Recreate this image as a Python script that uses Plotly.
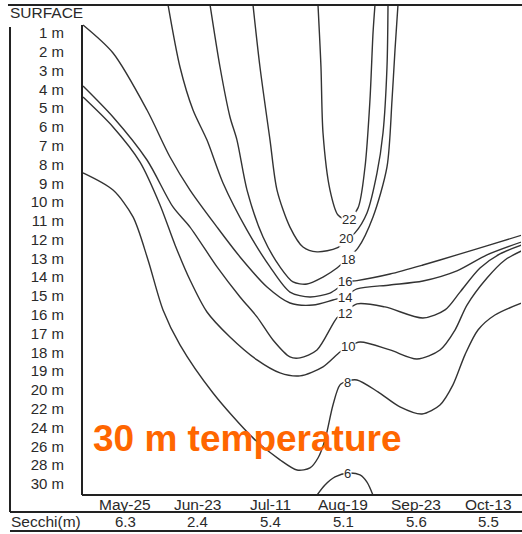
import plotly.graph_objects as go

# ---- categories / tick labels ----
dates = ["May-25", "Jun-23", "Jul-11", "Aug-19", "Sep-23", "Oct-13"]
secchi = ["6.3", "2.4", "5.4", "5.1", "5.6", "5.5"]
depth_labels = ["1 m", "2 m", "3 m", "4 m", "5 m", "6 m", "7 m", "8 m", "9 m", "10 m",
                "11 m", "12 m", "13 m", "14 m", "15 m", "16 m", "17 m", "18 m", "19 m",
                "20 m", "22 m", "24 m", "26 m", "28 m", "30 m"]

# ---- isotherms: x = sampling-date index, y = depth-row index (0 = surface) ----
iso22_x = [2.651, 2.692, 2.720, 2.816, 2.926, 3.063, 3.201, 3.297, 3.365, 3.407, 3.434]
iso22_y = [-0.5, 2.81, 6.32, 9.36, 10.69, 10.95, 10.31, 8.13, 4.57, 1.0, -0.5]

iso20_x = [1.758, 1.854, 1.992, 2.088, 2.266, 2.445, 2.637, 2.912, 3.036, 3.159, 3.324, 3.462, 3.544, 3.599, 3.613]
iso20_y = [-0.5, 2.81, 6.70, 9.36, 11.33, 12.39, 12.65, 12.44, 12.02, 11.64, 10.58, 8.45, 6.32, 2.81, -0.5]

iso18_x = [1.168, 1.305, 1.442, 1.538, 1.676, 1.896, 2.129, 2.308, 2.5, 2.720, 2.912, 3.036, 3.201, 3.407, 3.599, 3.668, 3.709, 3.750]
iso18_y = [-0.5, 2.81, 5.47, 6.70, 9.36, 11.86, 13.45, 14.25, 14.36, 13.99, 13.51, 13.08, 12.44, 10.79, 8.13, 4.57, 1.9, -0.5]

iso16_x = [0.591, 0.755, 0.934, 1.126, 1.346, 1.676, 1.992, 2.266, 2.541, 2.816, 2.926, 3.022, 3.187, 3.640, 4.093, 4.560, 5.014, 5.5]
iso16_y = [-0.5, 2.81, 5.10, 6.70, 8.98, 11.49, 13.45, 14.79, 15.05, 14.84, 14.57, 14.25, 14.18, 13.83, 13.35, 12.81, 12.28, 11.70]

iso14_x = [-0.577, -0.165, 0.302, 0.618, 0.893, 1.264, 1.580, 1.951, 2.266, 2.582, 2.857, 3.008, 3.187, 3.640, 4.093, 4.560, 4.973, 5.5]
iso14_y = [0.575, 2.065, 5.10, 7.60, 9.36, 11.33, 12.92, 14.52, 15.37, 15.48, 15.21, 15.05, 14.62, 14.41, 14.20, 13.66, 12.81, 12.05]

iso12_x = [-0.577, -0.165, 0.302, 0.659, 0.893, 1.264, 1.580, 1.813, 2.033, 2.266, 2.404, 2.637, 2.912, 3.008, 3.187, 3.571, 4.093, 4.396, 4.602, 4.877, 5.151, 5.5]
iso12_y = [3.82, 5.47, 7.76, 10.26, 11.33, 13.45, 15.05, 16.11, 17.34, 18.24, 18.29, 17.87, 16.15, 15.90, 15.42, 15.58, 16.17, 15.74, 14.79, 13.51, 12.76, 12.22]

iso10_x = [-0.577, -0.165, 0.206, 0.481, 0.687, 0.893, 1.126, 1.442, 1.813, 2.129, 2.404, 2.720, 2.953, 3.063, 3.228, 3.640, 4.011, 4.327, 4.533, 4.698, 4.973, 5.220, 5.5]
iso10_y = [4.41, 6.0, 7.87, 10.15, 12.28, 14.15, 15.85, 17.18, 18.40, 19.09, 19.25, 18.77, 17.98, 17.71, 17.45, 17.87, 18.35, 17.87, 16.81, 15.48, 14.04, 13.08, 12.50]

iso8_x = [-0.577, -0.165, 0.110, 0.316, 0.522, 0.755, 1.209, 1.758, 2.129, 2.363, 2.541, 2.651, 2.747, 2.857, 2.953, 3.063, 3.187, 3.475, 3.777, 4.080, 4.327, 4.505, 4.670, 4.849, 5.082, 5.5]
iso8_y = [8.45, 9.36, 10.79, 13.08, 15.74, 17.60, 20.16, 22.55, 23.72, 24.26, 24.15, 23.62, 22.66, 20.80, 19.73, 19.52, 19.47, 20.10, 20.90, 21.28, 20.80, 19.73, 18.13, 16.81, 16.01, 15.30]

iso6_x = [2.637, 2.747, 2.885, 3.063, 3.228, 3.324, 3.407]
iso6_y = [25.6, 25.06, 24.63, 24.42, 24.52, 24.90, 25.6]

# isotherm labels (placed on the Aug-19 column)
iso_levels = ["22", "20", "18", "16", "14", "12", "10", "8", "6"]
label_x = [3.08, 3.04, 3.06, 3.02, 3.02, 3.02, 3.06, 3.06, 3.06]
label_y = [10.90, 11.96, 13.08, 14.22, 15.08, 15.92, 17.71, 19.58, 24.42]

FONT = "Liberation Sans, Arial, sans-serif"
LINE = "#333333"
TXT = "#2a2a2a"

fig = go.Figure()
for xs, ys in [(iso22_x, iso22_y), (iso20_x, iso20_y), (iso18_x, iso18_y), (iso16_x, iso16_y),
               (iso14_x, iso14_y), (iso12_x, iso12_y), (iso10_x, iso10_y), (iso8_x, iso8_y),
               (iso6_x, iso6_y)]:
    fig.add_trace(go.Scatter(x=xs, y=ys, mode="lines",
                             line=dict(color=LINE, width=1.4, shape="spline", smoothing=0.8),
                             hoverinfo="skip", showlegend=False))

for t, lx, ly in zip(iso_levels, label_x, label_y):
    fig.add_annotation(x=lx, y=ly, text=t, showarrow=False, bgcolor="white", borderpad=0,
                       font=dict(family=FONT, size=13, color=TXT))

# date row and Secchi row (positioned on the x scale)
for i, d in enumerate(dates):
    fig.add_annotation(x=i, y=-0.0204, yref="paper", text=d, showarrow=False,
                       font=dict(family=FONT, size=15.5, color=TXT), yanchor="middle")
for i, s in enumerate(secchi):
    fig.add_annotation(x=i, y=-0.0551, yref="paper", text=s, showarrow=False,
                       font=dict(family=FONT, size=15, color=TXT), yanchor="middle")
fig.add_annotation(x=-0.166, xref="paper", y=-0.0551, yref="paper", text="Secchi(m)",
                   showarrow=False, xanchor="left", yanchor="middle",
                   font=dict(family=FONT, size=15.5, color=TXT))
fig.add_annotation(x=-0.1686, xref="paper", y=0.9837, yref="paper", text="SURFACE",
                   showarrow=False, xanchor="left", yanchor="middle",
                   font=dict(family=FONT, size=15.5, color=TXT))
fig.add_annotation(x=0.0205, xref="paper", y=0.116, yref="paper", text="<b>30 m temperature</b>",
                   showarrow=False, xanchor="left", yanchor="middle",
                   font=dict(family=FONT, size=37, color="#FF6600"))

# frame lines
shape_line = dict(color="#222222", width=2)
for x0, y0, x1, y1 in [(-0.1686, 1.0, 1.01, 1.0),      # top rule
                       (0.0, 0.0, 0.0, 0.959),          # inner left
                       (0.0, 0.0, 1.01, 0.0),           # inner bottom
                       (-0.164, -0.0347, -0.164, 0.955),  # outer left
                       (-0.164, -0.0347, 1.01, -0.0347),  # under dates
                       (-0.164, -0.0735, 1.01, -0.0735)]:  # under Secchi
    fig.add_shape(type="line", xref="paper", yref="paper", x0=x0, y0=y0, x1=x1, y1=y1,
                  line=shape_line)

fig.update_layout(
    width=522, height=534,
    margin=dict(l=82, r=1, t=5, b=39),
    paper_bgcolor="white", plot_bgcolor="white",
    xaxis=dict(range=[-0.591, 5.44], tickvals=list(range(len(dates))),
               showticklabels=False, showgrid=False, zeroline=False, showline=False, ticks=""),
    yaxis=dict(range=[25.59, -0.49], tickvals=list(range(1, 26)), ticktext=depth_labels,
               showgrid=False, zeroline=False, showline=False,
               ticks="outside", ticklen=14, tickcolor="rgba(0,0,0,0)",
               tickfont=dict(family=FONT, size=15, color=TXT)),
)

fig.write_html("out.html")
